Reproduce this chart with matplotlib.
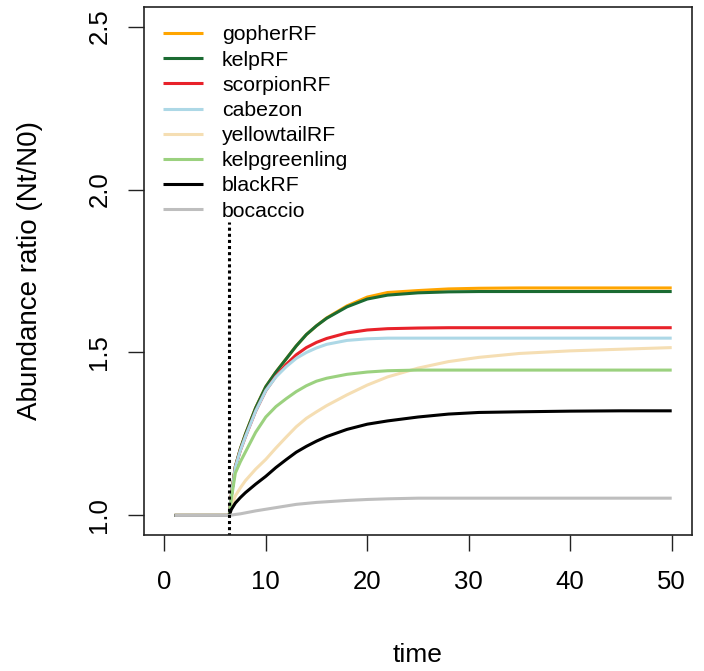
import numpy as np
import matplotlib
matplotlib.use("Agg")
import matplotlib.pyplot as plt

plt.rcParams['font.family'] = ['Liberation Sans', 'DejaVu Sans']

# time points (years) and abundance ratio
time = [1, 6.4, 6.6, 7, 7.5, 8, 9, 10, 11, 12, 13, 14, 15, 16, 18, 20, 22, 25, 28, 31, 35, 40, 45, 50]

gopherRF      = [1.0, 1.0, 1.060, 1.150, 1.205, 1.250, 1.330, 1.395, 1.440, 1.480, 1.520, 1.555, 1.582, 1.606, 1.643, 1.670, 1.684, 1.690, 1.695, 1.697, 1.698, 1.698, 1.698, 1.698]
kelpRF        = [1.0, 1.0, 1.060, 1.150, 1.205, 1.250, 1.330, 1.395, 1.440, 1.480, 1.520, 1.555, 1.582, 1.605, 1.640, 1.664, 1.676, 1.683, 1.686, 1.687, 1.687, 1.687, 1.687, 1.687]
scorpionRF    = [1.0, 1.0, 1.060, 1.148, 1.200, 1.242, 1.320, 1.383, 1.427, 1.463, 1.493, 1.515, 1.531, 1.543, 1.560, 1.569, 1.573, 1.575, 1.576, 1.576, 1.576, 1.576, 1.576, 1.576]
cabezon       = [1.0, 1.0, 1.060, 1.148, 1.200, 1.242, 1.320, 1.383, 1.425, 1.456, 1.482, 1.500, 1.514, 1.525, 1.537, 1.542, 1.544, 1.544, 1.544, 1.544, 1.544, 1.544, 1.544, 1.544]
yellowtailRF  = [1.0, 1.0, 1.025, 1.060, 1.085, 1.107, 1.142, 1.172, 1.207, 1.240, 1.272, 1.298, 1.318, 1.337, 1.370, 1.400, 1.425, 1.452, 1.472, 1.485, 1.497, 1.505, 1.510, 1.515]
kelpgreenling = [1.0, 1.0, 1.050, 1.130, 1.165, 1.195, 1.255, 1.302, 1.334, 1.358, 1.380, 1.398, 1.412, 1.421, 1.433, 1.440, 1.444, 1.446, 1.446, 1.446, 1.446, 1.446, 1.446, 1.446]
blackRF       = [1.0, 1.0, 1.018, 1.038, 1.055, 1.070, 1.096, 1.120, 1.147, 1.171, 1.194, 1.212, 1.228, 1.242, 1.264, 1.280, 1.290, 1.302, 1.311, 1.316, 1.318, 1.320, 1.321, 1.321]
bocaccio      = [1.0, 1.0, 1.001, 1.003, 1.005, 1.008, 1.014, 1.019, 1.024, 1.029, 1.034, 1.037, 1.040, 1.042, 1.046, 1.049, 1.051, 1.053, 1.053, 1.053, 1.053, 1.053, 1.053, 1.053]

species = ["gopherRF", "kelpRF", "scorpionRF", "cabezon", "yellowtailRF",
           "kelpgreenling", "blackRF", "bocaccio"]
series = [gopherRF, kelpRF, scorpionRF, cabezon, yellowtailRF,
          kelpgreenling, blackRF, bocaccio]
colors = ["#FFA500", "#1B6B32", "#E8222A", "#ADD8E6", "#F5DEB3",
          "#9BD17F", "#000000", "#BEBEBE"]

start_year = 6.4

fig = plt.figure(figsize=(7.04, 6.71), dpi=100)
ax = fig.add_axes([144/704, 1-535/671, 548/704, 528/671])

for name, vals, c in zip(species, series, colors):
    ax.plot(time, vals, color=c, lw=2.2, label=name, solid_capstyle='butt')

ax.vlines(start_year, 0.9, 1.9, colors="black", linestyles=(0, (1, 1)), lw=2.2)

ax.set_xlim(-2, 52)
ax.set_ylim(0.94, 2.56)
ax.set_xticks([0, 10, 20, 30, 40, 50])
ax.set_yticks([1.0, 1.5, 2.0, 2.5])
ax.set_yticklabels(["1.0", "1.5", "2.0", "2.5"], rotation=90, va="center")
ax.tick_params(axis="both", length=11.5, width=1, labelsize=18.5, color="#222222")
ax.tick_params(axis="x", pad=14)
ax.tick_params(axis="y", pad=12)
for s in ax.spines.values():
    s.set_linewidth(1.2)
    s.set_color("#222222")

ax.set_xlabel("time", fontsize=19, va="center")
ax.set_ylabel("Abundance ratio (Nt/N0)", fontsize=20, va="center")
ax.xaxis.set_label_coords(0.5, -0.227)
ax.yaxis.set_label_coords(-0.208, 0.5)

ax.legend(loc="upper left", bbox_to_anchor=(0.0347, 0.965), frameon=False,
          fontsize=15.3, handlelength=1.9, handletextpad=0.88, labelspacing=0.29,
          borderpad=0, borderaxespad=0)

fig.savefig("out.png", dpi=100)
